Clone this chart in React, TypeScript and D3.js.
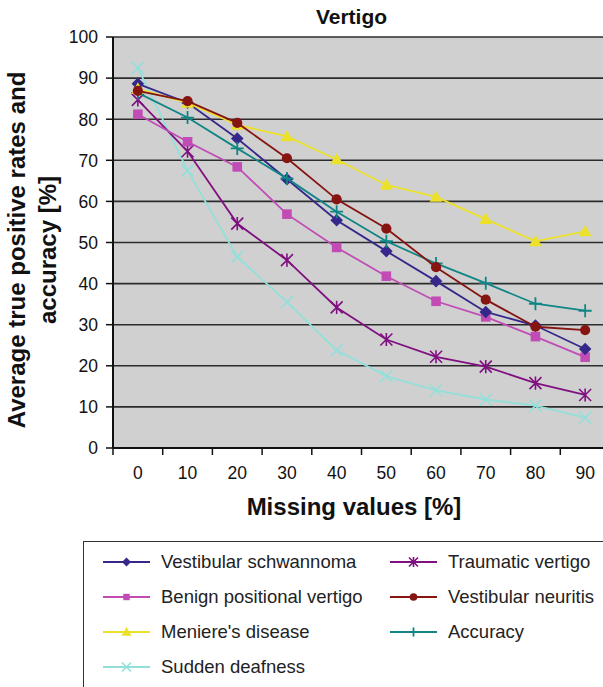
import React from "react";
import * as d3 from "d3";

const categories = ["0", "10", "20", "30", "40", "50", "60", "70", "80", "90"];
const yTicks = [0, 10, 20, 30, 40, 50, 60, 70, 80, 90, 100];

const vestibularSchwannoma = [88.6, 84, 75.3, 65.4, 55.4, 47.9, 40.6, 33.1, 29.8, 24.1];
const benignPositional = [81.2, 74.5, 68.4, 56.9, 48.8, 41.8, 35.7, 31.9, 27.1, 22.1];
const menieres = [87.4, 84, 78.6, 75.8, 70.2, 64, 61.1, 55.7, 50.3, 52.7];
const suddenDeafness = [92.5, 67.5, 46.5, 35.5, 23.8, 17.5, 14, 11.8, 10.3, 7.4];
const traumaticVertigo = [84.7, 72.2, 54.6, 45.7, 34.2, 26.4, 22.2, 19.8, 15.8, 12.9];
const vestibularNeuritis = [86.9, 84.4, 79.1, 70.5, 60.5, 53.4, 44, 36.1, 29.5, 28.7];
const accuracy = [86.4, 80.4, 72.9, 65.6, 57.5, 50.3, 44.9, 40.1, 35.1, 33.4];

type Marker = "diamond" | "square" | "triangle" | "x" | "asterisk" | "circle" | "plus";
const series: { name: string; values: number[]; color: string; marker: Marker }[] = [
  { name: "Vestibular schwannoma", values: vestibularSchwannoma, color: "#35288a", marker: "diamond" },
  { name: "Benign positional vertigo", values: benignPositional, color: "#c14cb6", marker: "square" },
  { name: "Meniere's disease", values: menieres, color: "#ebe02a", marker: "triangle" },
  { name: "Sudden deafness", values: suddenDeafness, color: "#93e0da", marker: "x" },
  { name: "Traumatic vertigo", values: traumaticVertigo, color: "#801080", marker: "asterisk" },
  { name: "Vestibular neuritis", values: vestibularNeuritis, color: "#861410", marker: "circle" },
  { name: "Accuracy", values: accuracy, color: "#108585", marker: "plus" },
];
const drawOrder = [3, 4, 1, 0, 6, 2, 5];

const FONT = "'Liberation Sans', Arial, Helvetica, sans-serif";

function MarkerShape({ type, x, y, color, s }: { type: Marker; x: number; y: number; color: string; s: number }) {
  switch (type) {
    case "diamond":
      return <path d={`M${x},${y - s}L${x + s},${y}L${x},${y + s}L${x - s},${y}Z`} fill={color} />;
    case "square":
      return <rect x={x - s * 0.8} y={y - s * 0.8} width={s * 1.6} height={s * 1.6} fill={color} />;
    case "triangle":
      return <path d={`M${x},${y - s}L${x + s},${y + s * 0.75}L${x - s},${y + s * 0.75}Z`} fill={color} />;
    case "circle":
      return <circle cx={x} cy={y} r={s * 0.85} fill={color} />;
    case "x":
      return (
        <path d={`M${x - s},${y - s}L${x + s},${y + s}M${x - s},${y + s}L${x + s},${y - s}`} stroke={color} strokeWidth={1.6} fill="none" />
      );
    case "plus":
      return <path d={`M${x - s},${y}L${x + s},${y}M${x},${y - s}L${x},${y + s}`} stroke={color} strokeWidth={1.8} fill="none" />;
    case "asterisk":
      return (
        <path
          d={`M${x - s},${y - s}L${x + s},${y + s}M${x - s},${y + s}L${x + s},${y - s}M${x},${y - s * 1.1}L${x},${y + s * 1.1}`}
          stroke={color}
          strokeWidth={1.6}
          fill="none"
        />
      );
  }
}

export default function App() {
  const W = 603;
  const H = 687;
  const left = 113;
  const right = 610;
  const top = 37;
  const bottom = 448;
  const x = d3.scaleBand<string>().domain(categories).range([left, right]);
  const y = d3.scaleLinear().domain([0, 100]).range([bottom, top]);
  const cx = (c: string) => (x(c) as number) + x.bandwidth() / 2;
  const line = d3
    .line<number>()
    .x((_, i) => cx(categories[i]))
    .y((v) => y(v));

  const markerSize: Record<Marker, number> = {
    diamond: 6.3,
    square: 6,
    triangle: 6.5,
    circle: 6,
    x: 6,
    plus: 6.5,
    asterisk: 6,
  };
  const legendMarker: Record<Marker, number> = {
    diamond: 4.5,
    square: 4,
    triangle: 5,
    circle: 4.5,
    x: 4.5,
    plus: 4.5,
    asterisk: 4.5,
  };

  const legendItems = series.map((s, i) => {
    const col = i < 4 ? 0 : 1;
    const row = i < 4 ? i : i - 4;
    return { ...s, lx: col === 0 ? 103 : 390, tx: col === 0 ? 161 : 448, ly: 562 + row * 35 };
  });

  const yTitleCenter = 250;

  return (
    <svg width={W} height={H} style={{ position: "absolute", left: 0, top: 0, fontFamily: FONT }}>
      <rect x={0} y={0} width={W} height={H} fill="#fff" />
      <rect x={left} y={top} width={right - left} height={bottom - top} fill="#d0d0d0" />
      {yTicks.map((t) => (
        <g key={t}>
          <line x1={left} x2={right} y1={y(t)} y2={y(t)} stroke="#2c2c2c" strokeWidth={1.6} />
          <line x1={left - 7} x2={left} y1={y(t)} y2={y(t)} stroke="#111" strokeWidth={1.5} />
          <text x={98} y={y(t)} dy="0.36em" textAnchor="end" fontSize={17.5} fill="#111">
            {t}
          </text>
        </g>
      ))}
      <line x1={left} x2={left} y1={top} y2={bottom} stroke="#111" strokeWidth={2} />
      <line x1={left} x2={right} y1={bottom} y2={bottom} stroke="#111" strokeWidth={2} />
      {categories.map((c) => (
        <g key={c}>
          <line x1={x(c) as number} x2={x(c) as number} y1={bottom} y2={bottom + 7} stroke="#111" strokeWidth={1.5} />
          <text x={cx(c)} y={479} textAnchor="middle" fontSize={17.5} fill="#111">
            {c}
          </text>
        </g>
      ))}
      {drawOrder.map((si) => {
        const s = series[si];
        return (
          <g key={s.name}>
            <path d={line(s.values) as string} fill="none" stroke={s.color} strokeWidth={1.8} />
            {s.values.map((v, i) => (
              <MarkerShape key={i} type={s.marker} x={cx(categories[i])} y={y(v)} color={s.color} s={markerSize[s.marker]} />
            ))}
          </g>
        );
      })}
      <text x={351.5} y={24} textAnchor="middle" fontSize={21} fontWeight="bold" fill="#111">
        Vertigo
      </text>
      <text x={354} y={515} textAnchor="middle" fontSize={24} fontWeight="bold" fill="#111">
        Missing values [%]
      </text>
      <g transform={`translate(25,${yTitleCenter}) rotate(-90)`}>
        <text x={0} y={0} textAnchor="middle" fontSize={24} fontWeight="bold" fill="#111">
          Average true positive rates and
        </text>
      </g>
      <g transform={`translate(56,${yTitleCenter}) rotate(-90)`}>
        <text x={0} y={0} textAnchor="middle" fontSize={24} fontWeight="bold" fill="#111">
          accuracy [%]
        </text>
      </g>
      <rect x={83.5} y={541.5} width={540} height={200} fill="#fff" stroke="#333" strokeWidth={1} />
      {legendItems.map((it) => (
        <g key={it.name}>
          <line x1={it.lx} x2={it.lx + 47} y1={it.ly} y2={it.ly} stroke={it.color} strokeWidth={1.8} />
          <MarkerShape type={it.marker} x={it.lx + 23.5} y={it.ly} color={it.color} s={legendMarker[it.marker]} />
          <text x={it.tx} y={it.ly} dy="0.3em" fontSize={18.5} fill="#222">
            {it.name}
          </text>
        </g>
      ))}
    </svg>
  );
}
